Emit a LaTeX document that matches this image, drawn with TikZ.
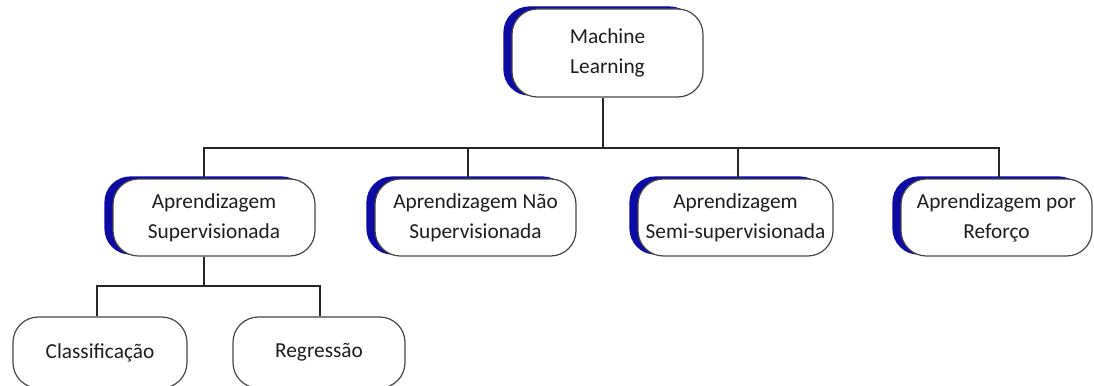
\documentclass[tikz,border=0pt]{standalone}
\usepackage{fontspec}
\setmainfont{Carlito}
\usetikzlibrary{shadows}
\definecolor{accent}{RGB}{12,12,165}
\definecolor{rim}{RGB}{70,70,70}
\definecolor{ink}{RGB}{30,30,30}
\begin{document}
\begin{tikzpicture}[x=0.75pt,y=-0.75pt,
  box/.style={draw=rim, line width=0.9pt, fill=white, rounded corners=19pt,
    inner sep=0pt, align=center, text=ink,
    font=\fontsize{16}{22.5}\selectfont},
  accented/.style={box, general shadow={shadow xshift=-6pt, shadow yshift=1.5pt,
    fill=accent, draw=accent}},
  link/.style={draw=black!85, line width=1.1pt}]
\useasboundingbox (0,0) rectangle (1094,385);
\begin{scope}
\clip (0,0) rectangle (1094,385);

% root
\node[accented, minimum width=143.25pt, minimum height=66pt] (ml) at (607.5,53)
  {Machine\\Learning};

% learning paradigms
\node[accented, minimum width=151.5pt, minimum height=57.75pt] (b1) at (214,217.5)
  {Aprendizagem\\Supervisionada};
\node[accented, minimum width=150.75pt, minimum height=57.75pt] (b2) at (475.5,217.5)
  {Aprendizagem Não\\Supervisionada};
\node[accented, minimum width=146.25pt, minimum height=57.75pt] (b3) at (735.5,217.5)
  {Aprendizagem\\Semi-supervisionada};
\node[accented, minimum width=143.25pt, minimum height=57.75pt] (b4) at (996.5,217.5)
  {Aprendizagem por\\Reforço};

% supervised tasks
\node[box, minimum width=130.5pt, minimum height=53.25pt] (c1) at (100,352.5)
  {Classificação};
\node[box, minimum width=129pt, minimum height=53.25pt] (c2) at (319,352.5)
  {Regressão};

% bus lines
\coordinate (bus) at (0,148);
\coordinate (subbus) at (0,286);

\draw[link] ([xshift=-3.375pt]ml.south) -- ([xshift=-3.375pt]ml.south |- bus);
\draw[link] ([xshift=-7.5pt]b1.north) -- ([xshift=-7.5pt]b1.north |- bus)
  -- ([xshift=1.875pt]b4.north |- bus) -- ([xshift=1.875pt]b4.north);
\draw[link] ([xshift=-5.625pt]b2.north) -- ([xshift=-5.625pt]b2.north |- bus);
\draw[link] ([xshift=1.875pt]b3.north) -- ([xshift=1.875pt]b3.north |- bus);

\draw[link] ([xshift=-7.5pt]b1.south) -- ([xshift=-7.5pt]b1.south |- subbus);
\draw[link] ([xshift=-2.25pt]c1.north) -- ([xshift=-2.25pt]c1.north |- subbus)
  -- ([xshift=0.75pt]c2.north |- subbus) -- ([xshift=0.75pt]c2.north);
\end{scope}
\end{tikzpicture}
\end{document}
